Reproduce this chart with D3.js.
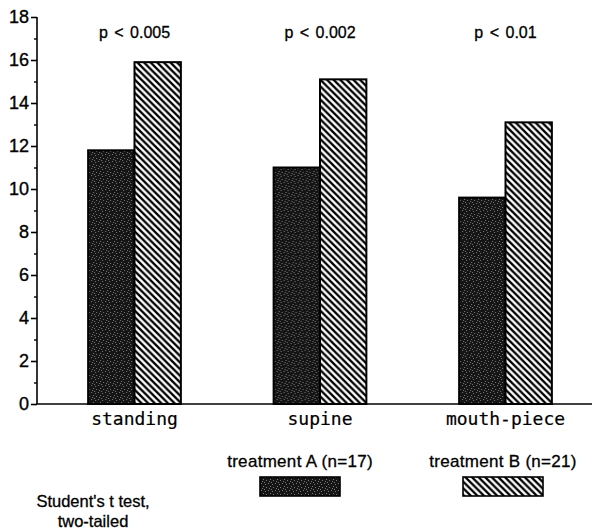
<!DOCTYPE html>
<html>
<head>
<meta charset="utf-8">
<script src="https://cdn.jsdelivr.net/npm/d3@7"></script>
<style>
  html, body { margin: 0; padding: 0; background: #fff; }
  svg { display: block; }
</style>
</head>
<body>
<svg id="chart" width="592" height="531"></svg>
<script>
// ---- data ----
const categories = ["standing", "supine", "mouth-piece"];
const series = ["treatment A (n=17)", "treatment B (n=21)"];
const valuesA = [11.8, 11.0, 9.6];
const valuesB = [15.9, 15.1, 13.1];
const pLabels = ["p < 0.005", "p < 0.002", "p < 0.01"];
const yMajorTicks = [0, 2, 4, 6, 8, 10, 12, 14, 16, 18];
const yMinorTicks = [1, 3, 5, 7, 9, 11, 13, 15, 17];
const footnote = ["Student's t test,", "two-tailed"];

const svg = d3.select("#chart");
const sans = "'Liberation Sans', Arial, Helvetica, sans-serif";
const mono = "'DejaVu Sans Mono', monospace";

// ---- patterns ----
const defs = svg.append("defs");
const speck = defs.append("pattern").attr("id", "speck")
  .attr("patternUnits", "userSpaceOnUse").attr("width", 7).attr("height", 7);
speck.append("rect").attr("width", 7).attr("height", 7).attr("fill", "#151515");
const dots = [[0,1],[3,0],[5,3],[1,4],[4,5],[6,6]];
speck.selectAll("rect.d").data(dots).enter().append("rect").attr("class","d")
  .attr("x", d => d[0]).attr("y", d => d[1]).attr("width", 1).attr("height", 1)
  .attr("fill", "#7a7a7a");

const hatch = defs.append("pattern").attr("id", "hatch")
  .attr("patternUnits", "userSpaceOnUse").attr("width", 6.6).attr("height", 6.6);
hatch.append("rect").attr("width", 6.6).attr("height", 6.6).attr("fill", "#fff");
hatch.append("path").attr("d", "M-1,-1 L7.6,7.6 M-1,5.6 L1,7.6 M5.6,-1 L7.6,1")
  .attr("stroke", "#000").attr("stroke-width", 2.3);

// ---- scales ----
const x = d3.scaleBand().domain(categories).range([41.75, 598.25])
  .paddingInner(0.5).paddingOuter(0.25);
const xs = d3.scaleBand().domain(series).range([0, x.bandwidth()]);
const y = d3.scaleLinear().domain([0, 18]).range([404, 17]);

// ---- bars ----
const groups = svg.append("g").selectAll("g").data(categories).enter().append("g")
  .attr("transform", d => `translate(${x(d)},0)`);
groups.each(function(c, i) {
  const g = d3.select(this);
  const vals = [valuesA[i], valuesB[i]];
  g.selectAll("rect").data(series).enter().append("rect")
    .attr("x", s => xs(s))
    .attr("width", xs.bandwidth())
    .attr("y", (s, j) => y(vals[j]))
    .attr("height", (s, j) => y(0) - y(vals[j]))
    .attr("fill", (s, j) => j === 0 ? "url(#speck)" : "url(#hatch)")
    .attr("stroke", "#000").attr("stroke-width", 2);
});

// ---- axes ----
const yAxis = svg.append("g").attr("transform", "translate(37,0)")
  .call(d3.axisLeft(y).tickValues(yMajorTicks).tickSize(6).tickPadding(2).tickFormat(d3.format("d")));
yAxis.select(".domain").attr("stroke-width", 1.6).attr("d", `M0,${y(0)}V${y(18)}`);
yAxis.selectAll(".tick line").attr("stroke-width", 1.6);
yAxis.selectAll("text").attr("font-family", sans).attr("font-size", 18).attr("fill", "#000")
  .attr("stroke", "#000").attr("stroke-width", 0.35);
const yMinor = svg.append("g").attr("transform", "translate(37,0)")
  .call(d3.axisLeft(y).tickValues(yMinorTicks).tickSize(3).tickFormat(""));
yMinor.select(".domain").remove();
yMinor.selectAll(".tick line").attr("stroke-width", 1.4);

// baseline
svg.append("line").attr("x1", 37).attr("x2", 592).attr("y1", y(0)).attr("y2", y(0))
  .attr("stroke", "#000").attr("stroke-width", 1.6);

// category labels
svg.append("g").selectAll("text").data(categories).enter().append("text")
  .attr("x", d => x(d) + x.bandwidth() / 2).attr("y", 425)
  .attr("text-anchor", "middle").attr("font-family", mono).attr("font-size", 18)
  .attr("stroke", "#000").attr("stroke-width", 0.2)
  .text(d => d);

// p-values
svg.append("g").selectAll("text").data(pLabels).enter().append("text")
  .attr("x", (d, i) => x(categories[i]) + x.bandwidth() / 2).attr("y", 37.5)
  .attr("text-anchor", "middle").attr("font-family", sans).attr("font-size", 16)
  .attr("word-spacing", 2).attr("stroke", "#000").attr("stroke-width", 0.3)
  .text(d => d);

// ---- legend ----
const lx = d3.scalePoint().domain(series).range([300, 503]);
const leg = svg.append("g").selectAll("g").data(series).enter().append("g")
  .attr("transform", d => `translate(${lx(d)},0)`);
leg.append("text").attr("y", 467).attr("text-anchor", "middle")
  .attr("font-family", sans).attr("font-size", 17).attr("letter-spacing", 0.3)
  .attr("stroke", "#000").attr("stroke-width", 0.3)
  .text(d => d);
leg.append("rect").attr("x", -40).attr("y", 477).attr("width", 80).attr("height", 19)
  .attr("fill", (d, i) => i === 0 ? "url(#speck)" : "url(#hatch)")
  .attr("stroke", "#000").attr("stroke-width", 1.6);

// footnote
svg.append("g").selectAll("text").data(footnote).enter().append("text")
  .attr("x", 93).attr("y", (d, i) => 507 + i * 20)
  .attr("text-anchor", "middle").attr("font-family", sans).attr("font-size", 16.5)
  .attr("stroke", "#000").attr("stroke-width", 0.3)
  .text(d => d);
</script>
</body>
</html>
